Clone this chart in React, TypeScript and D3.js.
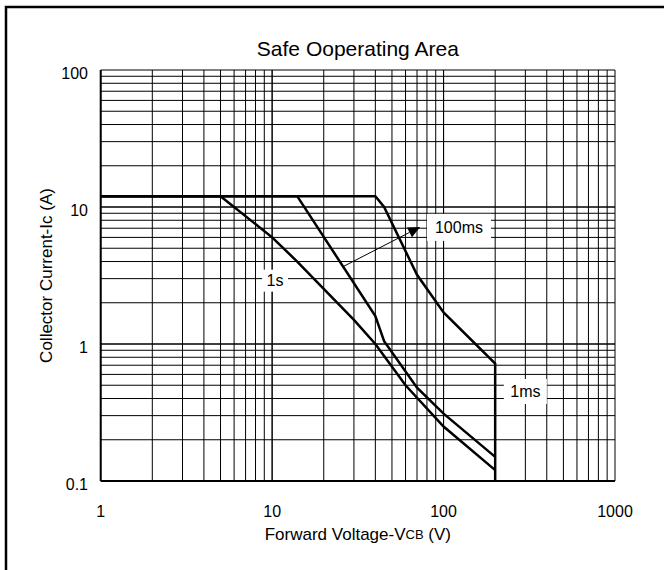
import React from "react";
import * as d3 from "d3";

// ---- data ----
const xTickValues = [1, 10, 100, 1000];
const yTickValues = [0.1, 1, 10, 100];
const xTickLabels = ["1", "10", "100", "1000"];
const yTickLabels = ["0.1", "1", "10", "100"];

const curve1sV = [1, 5, 10, 14, 30, 40, 60, 100, 200];
const curve1sI = [12, 12, 6, 4, 1.5, 1.0, 0.5, 0.25, 0.12];

const curve100msV = [1, 14, 40, 45, 70, 100, 200];
const curve100msI = [12, 12, 1.6, 1.05, 0.48, 0.31, 0.15];

const curve1msV = [1, 40, 45, 70, 100, 200, 200];
const curve1msI = [12, 12, 10, 3.2, 1.7, 0.72, 0.1];

const labelTexts = ["1s", "100ms", "1ms"];
const labelV = [10.4, 123, 300];
const labelI = [2.9, 7.1, 0.45];

const arrowV = [25.8, 73];
const arrowI = [3.66, 7.15];

const title = "Safe Ooperating Area";

export default function App() {
  const W = 664;
  const H = 570;
  const x = d3.scaleLog().domain([1, 1000]).range([100.7, 615]);
  const y = d3.scaleLog().domain([0.1, 100]).range([481, 70]);
  const font = "Arial, 'Liberation Sans', Helvetica, sans-serif";

  const minorX: number[] = [];
  [1, 10, 100].forEach((d) => {
    for (let k = 1; k <= 10; k++) minorX.push(d * k);
  });
  const minorY: number[] = [];
  [0.1, 1, 10].forEach((d) => {
    for (let k = 1; k <= 10; k++) minorY.push(d * k);
  });

  const line = d3
    .line<[number, number]>()
    .x((d) => x(d[0]))
    .y((d) => y(d[1]));

  const curves = [
    curve1sV.map((v, i) => [v, curve1sI[i]] as [number, number]),
    curve100msV.map((v, i) => [v, curve100msI[i]] as [number, number]),
    curve1msV.map((v, i) => [v, curve1msI[i]] as [number, number]),
  ];

  const ax0 = x(arrowV[0]);
  const ay0 = y(arrowI[0]);
  const ax1 = x(arrowV[1]);
  const ay1 = y(arrowI[1]);
  const ang = Math.atan2(ay1 - ay0, ax1 - ax0);
  const hl = 12;
  const hw = 5.5;
  const bx = ax1 - hl * Math.cos(ang);
  const by = ay1 - hl * Math.sin(ang);
  const head = `M${ax1},${ay1}L${bx + hw * Math.sin(ang)},${by - hw * Math.cos(ang)}L${bx - hw * Math.sin(ang)},${by + hw * Math.cos(ang)}Z`;

  const labelSizes = [
    { w: 26, h: 22 },
    { w: 64, h: 27 },
    { w: 43, h: 25 },
  ];

  return (
    <svg
      width={W}
      height={H}
      style={{ position: "absolute", left: 0, top: 0, background: "#fff" }}
    >
      <rect x={0} y={0} width={W} height={H} fill="#fff" />
      {/* outer frame */}
      <path d={`M6,${H}V7H${W}`} fill="none" stroke="#000" strokeWidth={2.5} />

      {/* title */}
      <text
        x={(x(1) + x(1000)) / 2}
        y={48}
        textAnchor="middle"
        dominantBaseline="central"
        fontFamily={font}
        fontSize={21}
      >
        {title}
      </text>

      {/* grid */}
      <g stroke="#000" strokeWidth={1}>
        {minorX.map((v, i) => (
          <line key={"gx" + i} x1={x(v)} x2={x(v)} y1={y(100)} y2={y(0.1)} />
        ))}
        {minorY.map((v, i) => (
          <line key={"gy" + i} x1={x(1)} x2={x(1000)} y1={y(v)} y2={y(v)} />
        ))}
      </g>
      {/* axis lines */}
      <line x1={x(1)} x2={x(1)} y1={y(100)} y2={y(0.1)} stroke="#000" strokeWidth={2} />
      <line x1={x(1)} x2={x(1000)} y1={y(0.1)} y2={y(0.1)} stroke="#000" strokeWidth={2} />

      {/* curves */}
      {curves.map((c, i) => (
        <path key={"c" + i} d={line(c) || ""} fill="none" stroke="#000" strokeWidth={2.5} strokeLinejoin="miter" />
      ))}

      {/* arrow */}
      <line x1={ax0} y1={ay0} x2={bx} y2={by} stroke="#000" strokeWidth={1} />
      <path d={head} fill="#000" />

      {/* curve labels */}
      {labelTexts.map((t, i) => {
        const cx = x(labelV[i]);
        const cy = y(labelI[i]);
        const s = labelSizes[i];
        return (
          <g key={"l" + i}>
            <rect x={cx - s.w / 2} y={cy - s.h / 2} width={s.w} height={s.h} fill="#fff" />
            <text
              x={cx}
              y={cy}
              textAnchor="middle"
              dominantBaseline="central"
              fontFamily={font}
              fontSize={16}
            >
              {t}
            </text>
          </g>
        );
      })}

      {/* y tick labels */}
      {yTickValues.map((v, i) => (
        <text
          key={"yt" + i}
          x={88}
          y={y(v) + 3}
          textAnchor="end"
          dominantBaseline="central"
          fontFamily={font}
          fontSize={16}
        >
          {yTickLabels[i]}
        </text>
      ))}
      {/* x tick labels */}
      {xTickValues.map((v, i) => (
        <text
          key={"xt" + i}
          x={x(v)}
          y={511}
          textAnchor="middle"
          dominantBaseline="central"
          fontFamily={font}
          fontSize={16}
        >
          {xTickLabels[i]}
        </text>
      ))}

      {/* axis titles */}
      <text
        x={(x(1) + x(1000)) / 2}
        y={534}
        textAnchor="middle"
        dominantBaseline="central"
        fontFamily={font}
        fontSize={17}
      >
        Forward Voltage-V<tspan fontSize={13}>CB</tspan> (V)
      </text>
      <text
        transform={`translate(46,${(y(100) + y(0.1)) / 2}) rotate(-90)`}
        textAnchor="middle"
        dominantBaseline="central"
        fontFamily={font}
        fontSize={17}
      >
        Collector Current-Ic (A)
      </text>
    </svg>
  );
}
